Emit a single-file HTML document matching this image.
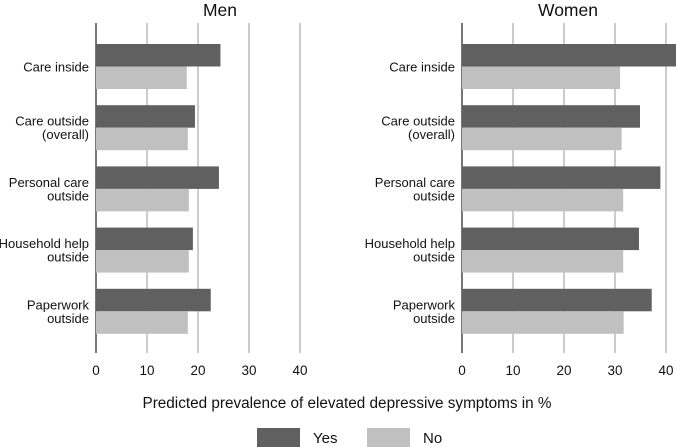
<!DOCTYPE html>
<html><head><meta charset="utf-8"><style>
body{margin:0;background:#fff;}
svg{display:block;font-family:"Liberation Sans",Arial,sans-serif;}
</style></head><body>
<svg id="c" width="676" height="447"></svg>
<script>
const categories=[["Care inside"],["Care outside","(overall)"],["Personal care","outside"],["Household help","outside"],["Paperwork","outside"]];
const menYes=[24.4,19.4,24.1,19.0,22.5];
const menNo=[17.8,18.0,18.2,18.2,18.0];
const womenYes=[42.5,34.9,38.9,34.7,37.2];
const womenNo=[31.0,31.3,31.6,31.6,31.7];
const ticks=[0,10,20,30,40];
const panelTitles=["Men","Women"];
const NS="http://www.w3.org/2000/svg";
const svg=document.getElementById('c');
function mk(t,a,p){const e=document.createElementNS(NS,t);for(const k in a)e.setAttribute(k,a[k]);(p||svg).appendChild(e);return e;}
const scale=5.1;
const panels=[{x0:96,yes:menYes,no:menNo,cx:220},{x0:462,yes:womenYes,no:womenNo,cx:568}];
panels.forEach((p,pi)=>{
  const g=mk('g',{});
  
  
  const X=v=>p.x0+v*scale;
  ticks.forEach(t=>{
    const l=mk('line',{x1:X(t),x2:X(t),y1:23,y2:353,stroke:t?'#bbb':'#777','stroke-width':t?1.5:2},g);
    
    
    const tx=mk('text',{x:X(t),y:375,'text-anchor':'middle','font-size':13.5,fill:'#111'},g);
    tx.textContent=t;
    
    
  });
  const ti=mk('text',{x:p.cx,y:16,'text-anchor':'middle','font-size':17.5,fill:'#111'},g);
  ti.textContent=panelTitles[pi];
  
  
  categories.forEach((c,i)=>{
    const top=44+i*61.2;
    const b1=mk('rect',{x:X(0),y:top,width:Math.max(0,X(p.yes[i])-X(0)),height:22.5,fill:'#606060'},g);
    
    
    const b2=mk('rect',{x:X(0),y:top+22.5,width:Math.max(0,X(p.no[i])-X(0)),height:22.5,fill:'#c0c0c0'},g);
    
    
    const lab=mk('text',{x:p.x0-7,'text-anchor':'end','font-size':13,fill:'#111'},g);
    
    
    const cy=top+22.5;
    c.forEach((ln,j)=>{const ts=mk('tspan',{x:p.x0-7,y:c.length==1?cy+5:cy-2+j*13.5},lab);ts.textContent=ln;});
  });
});
const at=mk('text',{x:347,y:408,'text-anchor':'middle','font-size':15.3,fill:'#111'});
at.textContent="Predicted prevalence of elevated depressive symptoms in %";


[["Yes",257,'#606060'],["No",367,'#c0c0c0']].forEach(([n,x,f])=>{
  const g=mk('g',{});
  
  
  mk('rect',{x:x,y:428,width:43,height:19,fill:f},g);
  const t=mk('text',{x:x+56,y:443,'font-size':15,fill:'#111'},g);t.textContent=n;
});
</script>
</body></html>
